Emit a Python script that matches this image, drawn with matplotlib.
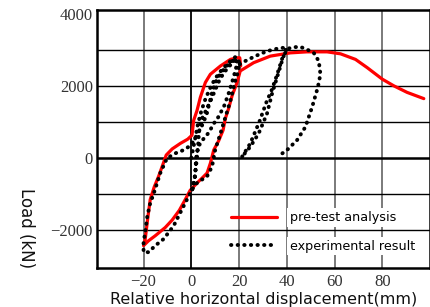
import matplotlib
matplotlib.use("Agg")
import matplotlib.pyplot as plt

# ---------------- data ----------------
# pre-test analysis (one continuous path: envelope -> unloading branch -> reloading branch)
ana_x = [97.4, 90.4, 84.8, 80.0, 73.7, 68.8, 62.5, 56.9, 48.5, 41.5, 33.1, 26.1, 20.5,
         19.2, 17.1, 15.6, 14.3, 13.3, 11.5, 9.4, 8.0, 6.6, 4.5, 2.4, -0.5, -2.5, -5.0,
         -8.0, -10.9, -15.1, -18.0, -20.0,
         -19.3, -18.3, -17.2, -15.5, -13.7, -12.0, -10.5, -8.0, -4.6, -1.5, 0.3, 1.0,
         2.4, 3.8, 5.9, 8.0, 12.2, 16.4, 19.2, 20.3, 20.7]
ana_y = [1644, 1817, 2000, 2184, 2502, 2731, 2886, 2940, 2940, 2912, 2822, 2639, 2411,
         2092, 1726, 1362, 1100, 767, 480, 219, -146, -420, -560, -694, -900, -1150, -1450,
         -1720, -1927, -2156, -2300, -2430,
         -2247, -1700, -1151, -800, -512, -200, 80, 250, 402, 520, 630, 1041,
         1315, 1680, 2092, 2320, 2548, 2731, 2776, 2776, 2550]

# experimental result: cyclic part up to +/-20 mm and the first push to 40 mm
exp1_x = [0.0, 1.5, 2.8, 4.2, 6.0, 8.0, 10.0, 12.9, 16.4, 18.4,
          19.5, 20.3, 19.2, 18.4, 16.4, 14.3, 12.2, 10.0, 8.7, 6.6, 4.0, 2.4, 0.3, -1.8,
          -4.6, -7.4, -11.6, -15.1, -17.9, -20.0,
          -20.0, -19.3, -18.4, -17.2, -15.8, -13.0, -10.2, -6.7, -3.2, -1.1, 0.8, 2.4,
          3.8, 5.2, 6.6, 7.5, 8.7, 10.5, 12.9, 16.0, 18.4,
          19.3, 18.4, 17.3, 15.8, 13.8, 11.5, 9.4, 7.3, 4.5, 2.8, 2.0, 1.7, 1.2, 0.3,
          1.5, 2.2, 2.8, 3.2, 4.2, 6.4, 8.2, 9.8, 11.4, 13.5, 16.0, 18.4, 20.3,
          22.6, 26.8, 31.7, 37.3, 40.1,
          39.4, 38.0, 35.9, 33.8, 31.7, 28.2, 24.7, 21.3]
exp1_y = [0, 500, 950, 1300, 1650, 1950, 2200, 2457, 2685, 2795,
          2760, 2600, 2300, 2137, 1589, 1132, 676, 219, -238, -512, -620, -694, -877, -1151,
          -1515, -1882, -2247, -2430, -2612, -2612,
          -2337, -2063, -1600, -1250, -1000, -420, -8, 128, 219, 310, 450, 650,
          800, 1000, 1250, 1500, 1817, 2150, 2400, 2620, 2750,
          2650, 2400, 2150, 1820, 1450, 1150, 950, 700, 480, 300, 0, -400, -700, -877,
          -500, -100, 300, 700, 1050, 1350, 1600, 1850, 2100, 2350, 2550, 2700, 2594,
          2685, 2822, 2959, 3050, 3050,
          2959, 2685, 2228, 1772, 1224, 676, 310, 36]

# experimental result: reloading to 40 mm, push to ~54 mm and unloading
exp2_x = [21.3, 24.7, 28.5, 31.5, 33.8, 35.9, 38.3, 40.5, 43.0, 45.7, 48.5, 51.3,
          53.4, 54.1, 53.0, 50.6, 47.8, 44.3, 40.1, 36.6]
exp2_y = [36, 400, 1000, 1550, 1900, 2300, 2800, 3030, 3070, 3078, 3004, 2913,
          2685, 2320, 1954, 1406, 858, 493, 219, 55]

x_ticks = [-20, 0, 20, 40, 60, 80]
y_ticks = [-2000, 0, 2000, 4000]
y_grid_minor = [-1000, 1000, 3000]

legend_labels = ["pre-test analysis", "experimental result"]

# ---------------- figure ----------------
fig = plt.figure(figsize=(4.31, 3.07), dpi=100)
ax = fig.add_axes([97 / 431, 1 - 268 / 307, 333 / 431, 258 / 307])
ax.set_xlim(-39.5, 100)
ax.set_ylim(-3050, 4100)

# grid
for xv in x_ticks:
    if xv == 0:
        ax.axvline(xv, color="black", lw=1.3, zorder=1)
    else:
        ax.axvline(xv, color="#7a7a7a", lw=1.4, zorder=1)
for yv in y_ticks[:-1] + y_grid_minor:
    if yv == 0:
        ax.axhline(yv, color="black", lw=1.8, zorder=1)
    else:
        ax.axhline(yv, color="black", lw=1.0, zorder=1)

ax.plot(ana_x, ana_y, color="#ff0000", lw=2.3, solid_capstyle="round",
        solid_joinstyle="round", zorder=3, label=legend_labels[0])
dot_style = dict(color="black", lw=2.8, linestyle=(0, (0.1, 1.6)),
                 dash_capstyle="round", zorder=4)
ax.plot(exp1_x, exp1_y, label=legend_labels[1], **dot_style)
ax.plot(exp2_x, exp2_y, **dot_style)

ax.set_xticks(x_ticks)
ax.set_yticks(y_ticks)
ax.tick_params(length=0, labelsize=12, labelcolor="#333333")
ax.tick_params(axis="x", pad=4)
ax.tick_params(axis="y", pad=3)
for lab in ax.get_xticklabels() + ax.get_yticklabels():
    lab.set_family("Liberation Serif")

for sp in ax.spines.values():
    sp.set_linewidth(1.8)
    sp.set_zorder(5)

ax.text(0.5, -0.122, "Relative horizontal displacement(mm)", transform=ax.transAxes,
        ha="center", va="center", fontsize=11.5, family="DejaVu Sans", color="#111111")
ax.text(-0.213, 0.155, "Load (kN)", transform=ax.transAxes, rotation=-90,
        ha="center", va="center", fontsize=12, family="DejaVu Sans", color="#111111")

leg = ax.legend(loc="center left", bbox_to_anchor=(0.403, 0.14), frameon=False,
                fontsize=9.2, handlelength=3.6, handletextpad=1.0, labelspacing=1.2,
                borderpad=0, borderaxespad=0)
for t in leg.get_texts():
    t.set_bbox(dict(facecolor="white", edgecolor="none", pad=2))
leg.set_zorder(6)

fig.savefig("out.png", dpi=100)
